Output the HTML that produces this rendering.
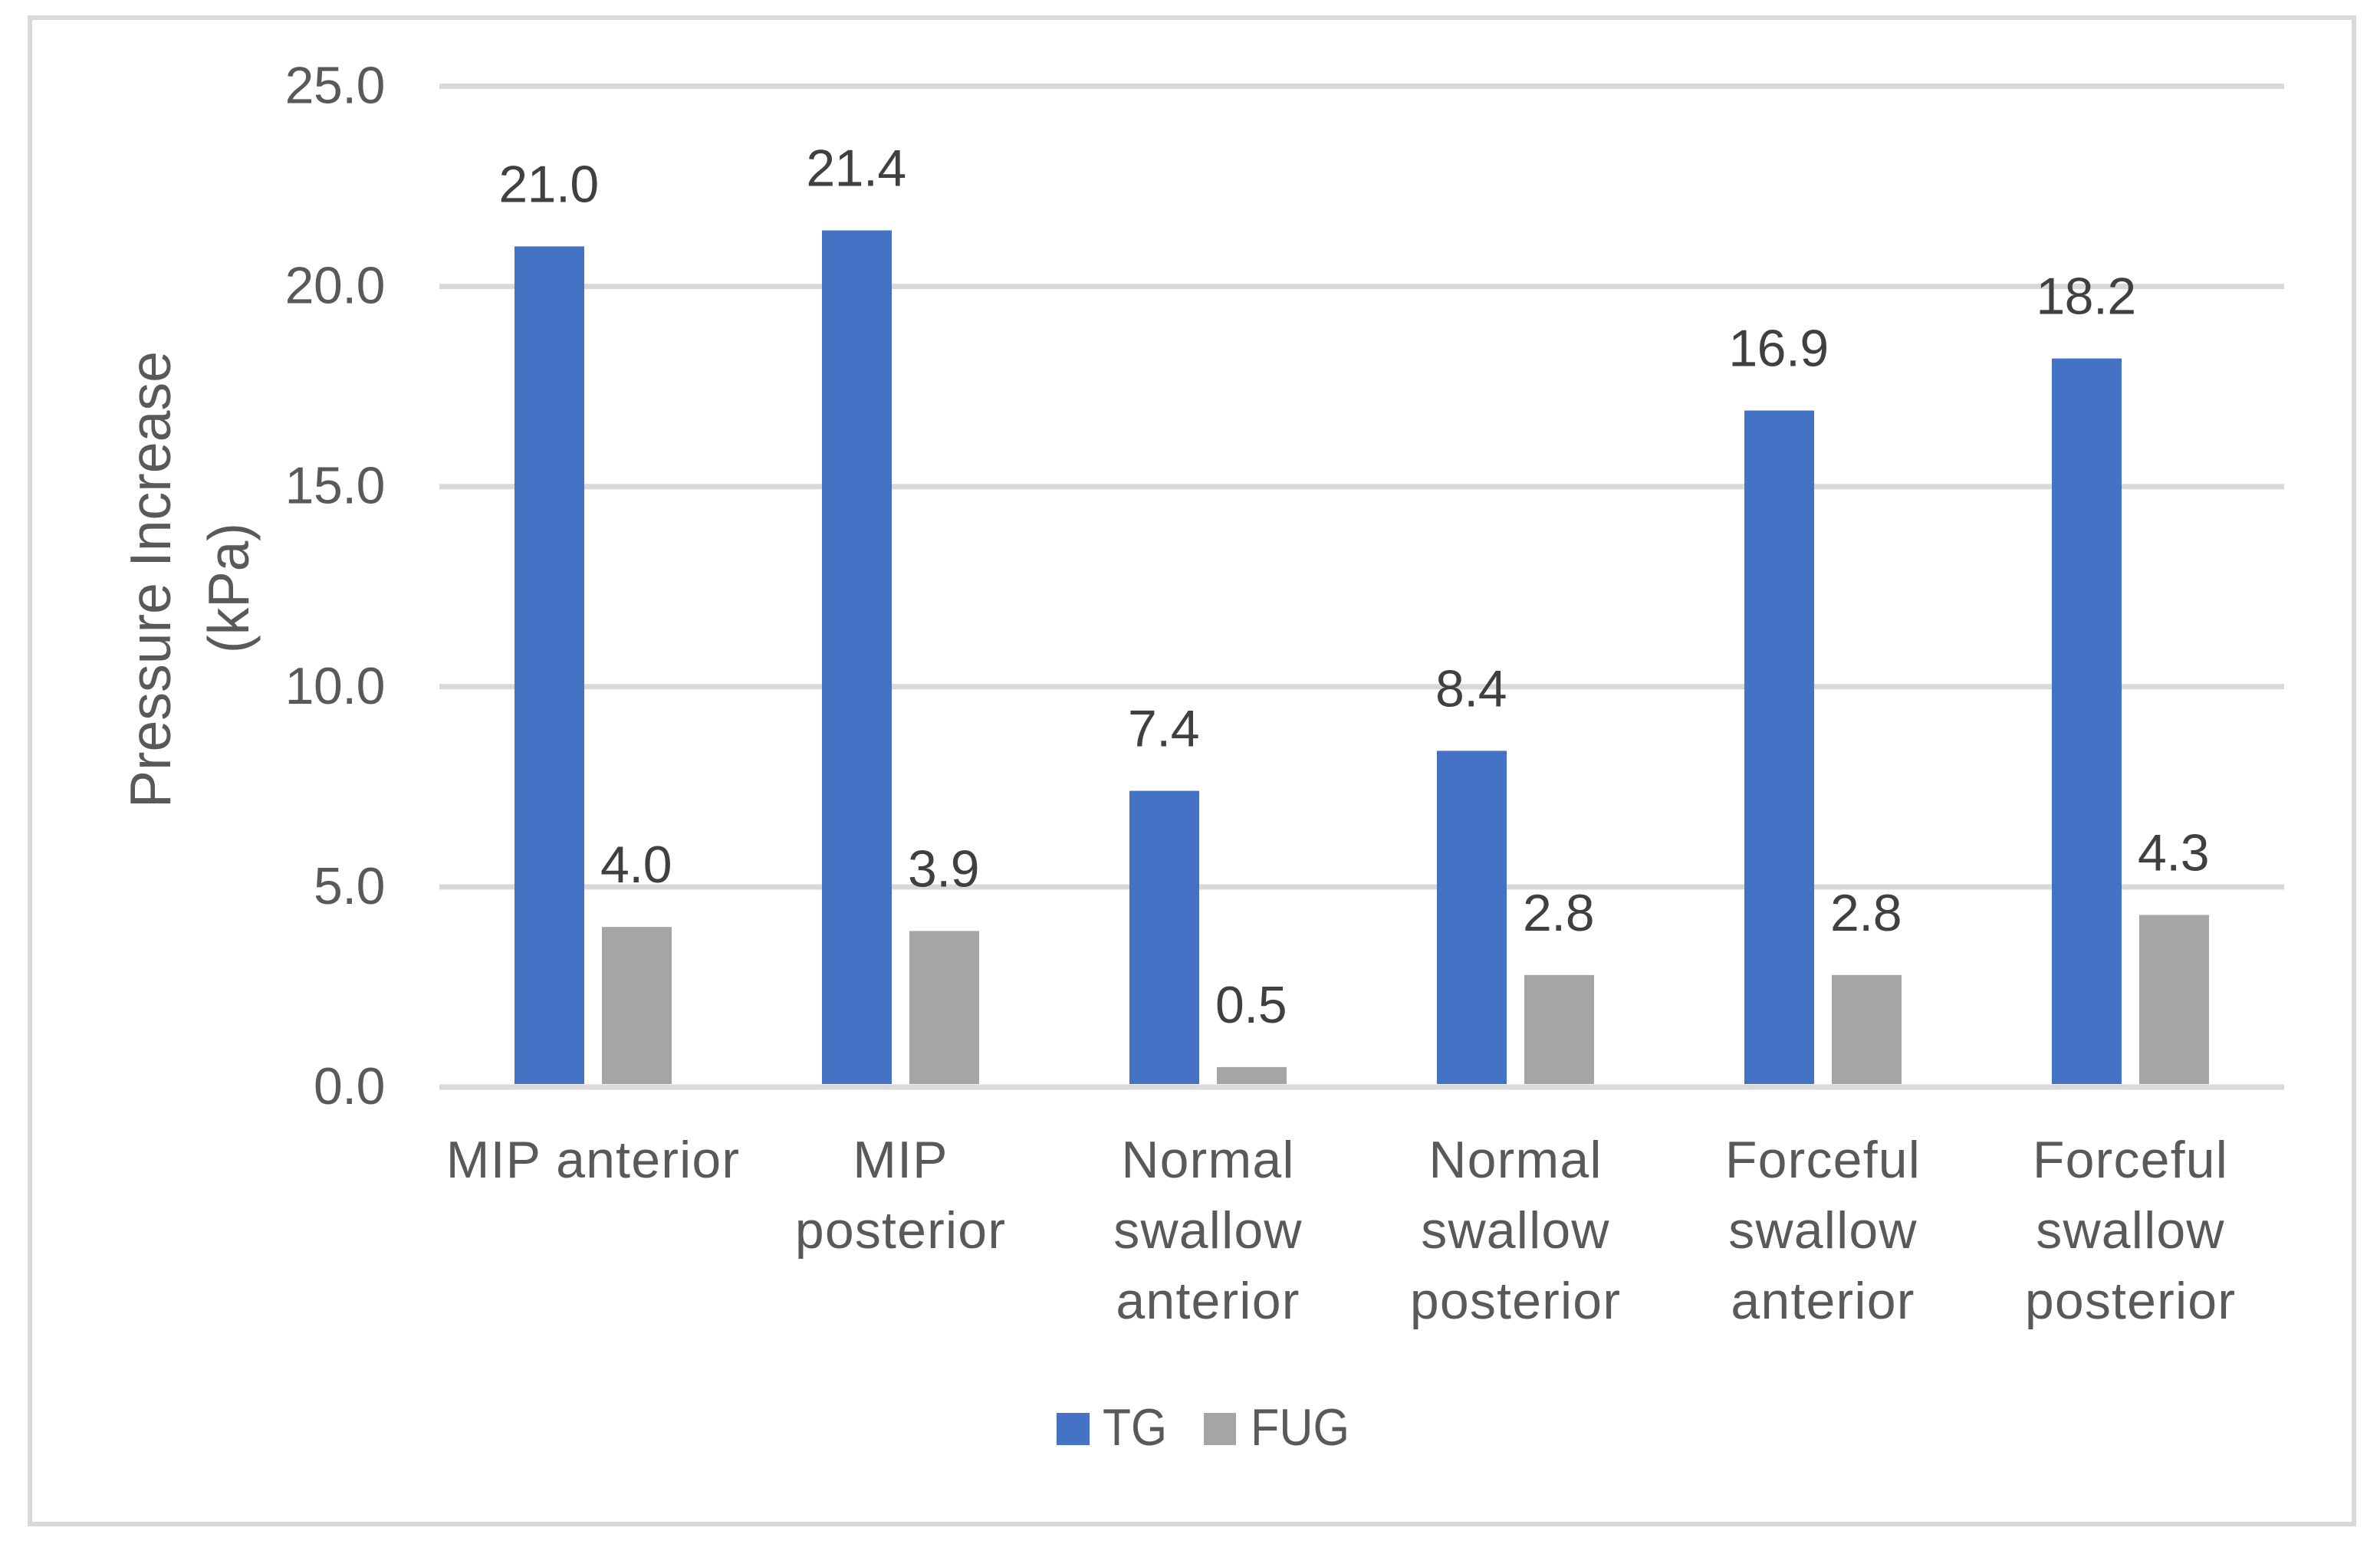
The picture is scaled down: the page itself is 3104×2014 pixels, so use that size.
<!DOCTYPE html>
<html>
<head>
<meta charset="utf-8">
<title>Pressure Increase Chart</title>
<style>
html,body{margin:0;padding:0;background:#fff;}
svg{display:block;}
text{font-family:"Liberation Sans",sans-serif;font-size:68px;fill:#595959;}
</style>
</head>
<body>
<svg id="chart" xmlns="http://www.w3.org/2000/svg" width="3104" height="2014" viewBox="0 0 3104 2014">
<rect x="0" y="0" width="3104" height="2014" fill="#ffffff"/>
<rect x="39" y="23" width="3031" height="1965" fill="#ffffff" stroke="#d9d9d9" stroke-width="6"/>
<g id="grid"></g>
<g id="yticks"></g>
<g id="bars"></g>
<g id="labels"></g>
<g id="xticks"></g>
<g>
<text transform="translate(222 756) rotate(-90)" text-anchor="middle" textLength="596" lengthAdjust="spacingAndGlyphs" style="font-size:75px">Pressure Increase</text>
<text transform="translate(324 767) rotate(-90)" text-anchor="middle" textLength="170" lengthAdjust="spacingAndGlyphs" style="font-size:75px">(kPa)</text>
</g>
<g>
<rect x="1378" y="1843" width="43" height="42" fill="#4472c4"/>
<text x="1438" y="1885" textLength="84" lengthAdjust="spacingAndGlyphs">TG</text>
<rect x="1570" y="1843" width="42" height="42" fill="#a5a5a5"/>
<text x="1631" y="1885" textLength="129" lengthAdjust="spacingAndGlyphs">FUG</text>
</g>
</svg>
<script>
const categories = [
  ["MIP anterior"],
  ["MIP", "posterior"],
  ["Normal", "swallow", "anterior"],
  ["Normal", "swallow", "posterior"],
  ["Forceful", "swallow", "anterior"],
  ["Forceful", "swallow", "posterior"]
];
const tgValues = [21.0, 21.4, 7.4, 8.4, 16.9, 18.2];
const fugValues = [4.0, 3.9, 0.5, 2.8, 2.8, 4.3];
const yTickValues = [0, 5, 10, 15, 20, 25];

const NS = "http://www.w3.org/2000/svg";
const plotLeft = 573, plotRight = 2979, plotZero = 1418, plotTop = 112.5, yMax = 25;
const barWidth = 91, barGap = 23;

function yScale(v) {
  return plotZero - (v / yMax) * (plotZero - plotTop);
}
function xBand(i) {
  return plotLeft + (i + 0.5) * (plotRight - plotLeft) / categories.length;
}
function make(tag, attrs, parent, content) {
  const el = document.createElementNS(NS, tag);
  for (const k in attrs) el.setAttribute(k, attrs[k]);
  if (content !== undefined) el.textContent = content;
  parent.appendChild(el);
  return el;
}

const gridG = document.getElementById("grid");
const ytG = document.getElementById("yticks");
yTickValues.forEach(function (v) {
  const y = yScale(v);
  const line = make("line", {x1: plotLeft, x2: plotRight, y1: y, y2: y, stroke: "#d9d9d9", "stroke-width": 7}, gridG);
  
  
  const t = make("text", {x: 502, y: y + 22, "text-anchor": "end", style: "letter-spacing:-0.5px"}, ytG, v.toFixed(1));
  
  
});

const barsG = document.getElementById("bars");
const labelsG = document.getElementById("labels");
function drawSeries(values, side, color, seriesName) {
  values.forEach(function (v, i) {
    const x = side < 0 ? xBand(i) - barGap / 2 - barWidth : xBand(i) + barGap / 2;
    const top = yScale(v);
    const rect = make("rect", {x: x, y: top, width: barWidth, height: Math.max(0, plotZero - 4 - top), fill: color}, barsG);
    
    
    const label = make("text", {x: x + barWidth / 2 - 1, y: top - 58, "text-anchor": "middle", style: "fill:#404040;letter-spacing:-0.5px"}, labelsG, v.toFixed(1));
    
    
  });
}
drawSeries(tgValues, -1, "#4472c4", "tg");
drawSeries(fugValues, 1, "#a5a5a5", "fug");

const xtG = document.getElementById("xticks");
categories.forEach(function (lines, i) {
  lines.forEach(function (line, j) {
    const t = make("text", {x: xBand(i), y: 1536 + j * 92, "text-anchor": "middle", style: "letter-spacing:1.2px"}, xtG, line);
    
    
  });
});
</script>
</body>
</html>
